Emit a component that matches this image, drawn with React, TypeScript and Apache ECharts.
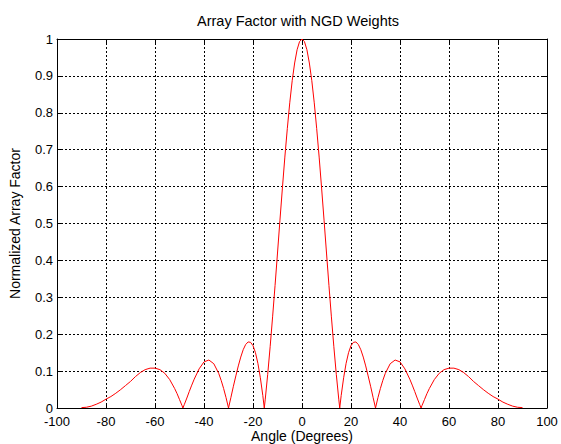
import React, { useEffect, useRef } from "react";
import * as echarts from "echarts";

const chartTitle = "Array Factor with NGD Weights";
const xAxisName = "Angle (Degrees)";
const yAxisName = "Normalized Array Factor";

// Angle samples (degrees)
const angleDeg = [
  -90, -88, -86, -84, -82, -80, -78, -76, -74, -72, -70, -68, -66, -64, -62, -60,
  -58, -56, -54, -52, -51, -50, -49, -48.6, -48, -47, -46, -45, -44, -42, -40, -38,
  -36, -34, -33, -32, -31, -30, -29, -28, -27, -26, -25, -24, -23, -22, -21, -20,
  -19, -18, -17, -16, -15.4, -15, -14, -13, -12, -11, -10, -9, -8, -7, -6, -5, -4,
  -3, -2, -1,
  0, 1, 2, 3, 4, 5, 6, 7, 8, 9, 10, 11, 12, 13, 14, 15, 15.4, 16, 17, 18, 19, 20,
  21, 22, 23, 24, 25, 26, 27, 28, 29, 30, 31, 32, 33, 34, 36, 38, 40, 42, 44, 45,
  46, 47, 48, 48.6, 49, 50, 51, 52, 54, 56, 58, 60, 62, 64, 66, 68, 70, 72, 74, 76,
  78, 80, 82, 84, 86, 88, 90,
];

// Normalized array factor values
const arrayFactor = [
  0.001, 0.002, 0.005, 0.010, 0.016, 0.024, 0.031, 0.040, 0.050, 0.061, 0.072, 0.085,
  0.096, 0.104, 0.108, 0.108, 0.104, 0.094, 0.077, 0.053, 0.039, 0.023, 0.007, 0,
  0.010, 0.027, 0.045, 0.062, 0.078, 0.106, 0.125, 0.130, 0.120, 0.094, 0.075, 0.053,
  0.028, 0, 0.029, 0.059, 0.087, 0.114, 0.138, 0.158, 0.172, 0.179, 0.178, 0.169,
  0.150, 0.121, 0.082, 0.034, 0, 0.024, 0.091, 0.166, 0.247, 0.332, 0.420, 0.509,
  0.596, 0.680, 0.757, 0.827, 0.887, 0.935, 0.971, 0.993,
  1, 0.993, 0.971, 0.935, 0.887, 0.827, 0.757, 0.680, 0.596, 0.509, 0.420, 0.332,
  0.247, 0.166, 0.091, 0.024, 0, 0.034, 0.082, 0.121, 0.150, 0.169, 0.178, 0.179,
  0.172, 0.158, 0.138, 0.114, 0.087, 0.059, 0.029, 0, 0.028, 0.053, 0.075, 0.094,
  0.120, 0.130, 0.125, 0.106, 0.078, 0.062, 0.045, 0.027, 0.010, 0, 0.007, 0.023,
  0.039, 0.053, 0.077, 0.094, 0.104, 0.108, 0.108, 0.104, 0.096, 0.085, 0.072, 0.061,
  0.050, 0.040, 0.031, 0.024, 0.016, 0.010, 0.005, 0.002, 0.001,
];

const xMin = -100;
const xMax = 100;
const xStep = 20;
const yMin = 0;
const yMax = 1;
const yStep = 0.1;

const FONT = "'Liberation Sans', Arial, Helvetica, sans-serif";

export default function App() {
  const ref = useRef<HTMLDivElement>(null);

  useEffect(() => {
    if (!ref.current) return;
    const chart = echarts.init(ref.current, null, { renderer: "svg" });

    const data = angleDeg.map((a, i) => [a, arrayFactor[i]]);

    const gridLine = { show: true, lineStyle: { color: "#000", width: 1, type: [2, 2] as any } };
    const frameLine = { show: true, onZero: false, lineStyle: { color: "#000", width: 1 } };
    const tick = { show: true, inside: true, length: 5, lineStyle: { color: "#000", width: 1 } };

    chart.setOption({
      animation: false,
      backgroundColor: "#fff",
      graphic: [
        {
          type: "text",
          x: 298,
          y: 13,
          style: {
            text: chartTitle,
            fill: "#000",
            font: `14.5px ${FONT}`,
            textAlign: "center",
            textVerticalAlign: "top",
          },
        },
      ],
      grid: {
        left: 57,
        right: 14,
        top: 39,
        bottom: 36,
        containLabel: false,
        outerBoundsMode: "none",
      },
      xAxis: [
        {
          type: "value",
          position: "bottom",
          min: xMin,
          max: xMax,
          interval: xStep,
          axisLine: frameLine,
          axisTick: tick,
          axisLabel: { color: "#000", fontSize: 13, fontFamily: FONT, margin: 7, lineHeight: 13 },
          splitLine: gridLine,
          name: xAxisName,
          nameLocation: "middle",
          nameGap: 20,
          nameMoveOverlap: false,
          nameTextStyle: {
            color: "#000",
            fontSize: 14,
            fontFamily: FONT,
            verticalAlign: "top",
            lineHeight: 15,
          },
        },
        {
          type: "value",
          position: "top",
          min: xMin,
          max: xMax,
          interval: xStep,
          axisLine: frameLine,
          axisTick: tick,
          axisLabel: { show: false },
          splitLine: { show: false },
        },
      ],
      yAxis: [
        {
          type: "value",
          position: "left",
          min: yMin,
          max: yMax,
          interval: yStep,
          axisLine: frameLine,
          axisTick: tick,
          axisLabel: { color: "#000", fontSize: 13, fontFamily: FONT, margin: 4, lineHeight: 12 },
          splitLine: gridLine,
          name: yAxisName,
          nameLocation: "middle",
          nameGap: 35,
          nameMoveOverlap: false,
          nameRotate: 90,
          nameTextStyle: { color: "#000", fontSize: 14, fontFamily: FONT },
        },
        {
          type: "value",
          position: "right",
          min: yMin,
          max: yMax,
          interval: yStep,
          axisLine: frameLine,
          axisTick: tick,
          axisLabel: { show: false },
          splitLine: { show: false },
        },
      ],
      series: [
        {
          type: "line",
          data,
          xAxisIndex: 0,
          yAxisIndex: 0,
          showSymbol: false,
          symbol: "none",
          lineStyle: { color: "#ff0000", width: 1 },
          itemStyle: { color: "#ff0000" },
          z: 5,
        },
      ],
    });

    return () => chart.dispose();
  }, []);

  return (
    <div
      ref={ref}
      style={{ position: "fixed", left: 0, top: 0, width: 561, height: 444, background: "#fff" }}
    />
  );
}
